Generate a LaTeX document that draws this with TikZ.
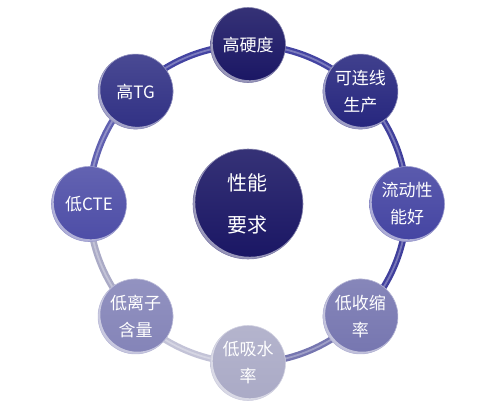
\documentclass[tikz,border=0pt]{standalone}
\usepackage{fontspec}
\setmainfont{Noto Sans CJK SC}
\usepackage{xcolor}
\usetikzlibrary{calc}

\definecolor{navy}{HTML}{1A1664}
\definecolor{deepblue}{HTML}{26267E}
\definecolor{midblue}{HTML}{4444A2}
\definecolor{lilac}{HTML}{7676B0}
\definecolor{paleblue}{HTML}{AAAAC6}

\tikzset{
  ball/.style={circle, minimum size=75pt, inner sep=0pt, text=white, align=center,
    font=\fontsize{17}{27}\selectfont, draw=#1!55!white, line width=0.6pt,
    top color=#1!88!white, bottom color=#1,
    path picture={
      \fill[white, opacity=.55, even odd rule]
        let \p1=(path picture bounding box.north east),
            \p2=(path picture bounding box.center) in
        (\p2) circle ({\x1-\x2}) ($(\p2)+(1.8pt,1.8pt)$) circle ({\x1-\x2-0.4pt});
    }},
  ring/.style={line width=6.5pt, draw=#1,
    postaction={draw=white, opacity=.3, line width=1.8pt}}
}

\begin{document}
\begin{tikzpicture}[x=1pt, y=1pt]
    \useasboundingbox (-248,-201) rectangle (244,204);

    % ring
    \draw[ring=midblue] (45:159) arc (45:135:159);
    \draw[ring=midblue!90!navy] (-45:159) arc (-45:45:159);
    \draw[ring=lilac] (-90:159) arc (-90:-45:159);
    \draw[ring=paleblue!70!white] (-135:159) arc (-135:-90:159);
    \draw[ring=paleblue] (180:159) arc (180:225:159);
    \draw[ring=midblue!85!white] (135:159) arc (135:180:159);

    % outer balls
    \node[ball=navy] (hardness) at (90:159) {高硬度};
    \node[ball=deepblue] (online) at (45:159) {可连线\\生产};
    \node[ball=midblue] (flow) at (0:159) {流动性\\能好};
    \node[ball=lilac] (shrink) at (-45:159) {低收缩\\率};
    \node[ball=paleblue] (water) at (-90:159) {低吸水\\率};
    \node[ball=lilac!90!white] (ion) at (-135:159) {低离子\\含量};
    \node[ball=midblue!95!white] (cte) at (180:159) {低CTE};
    \node[ball=deepblue!95!white] (tg) at (135:159) {高TG};

    % centre
    \node[ball=navy, minimum size=110pt, font=\fontsize{20}{42}\selectfont] (core) at (0,0) {性能\\要求};
\end{tikzpicture}
\end{document}
